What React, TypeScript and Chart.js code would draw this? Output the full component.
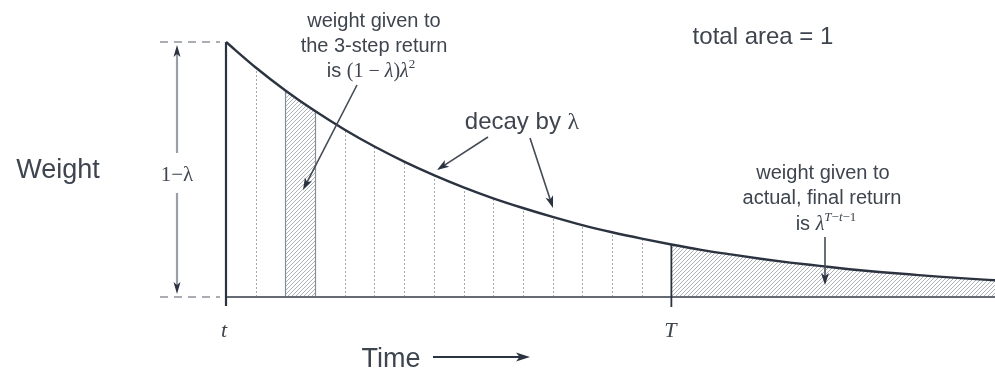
import React, { useEffect, useRef } from "react";
import { Chart, registerables } from "chart.js";

Chart.register(...registerables);

// time steps after t (t = 0, T = 15)
const stepIndex = [0, 1, 2, 3, 4, 5, 6, 7, 8, 9, 10, 11, 12, 13, 14, 15, 16, 17, 18, 19, 20, 21, 22, 23, 24, 25, 26];
// weight (relative to 1-λ)
const weights = [1.0, 0.9, 0.81, 0.729, 0.656, 0.59, 0.531, 0.478, 0.43, 0.387, 0.349, 0.314, 0.282, 0.254, 0.229, 0.206, 0.185, 0.167, 0.15, 0.135, 0.122, 0.109, 0.098, 0.089, 0.08, 0.072, 0.065];
const hatchedStep = [2, 3];
const terminalStep = 15;
const xMax = 25.9;

const TEXT = "#3e454f";
const DARK = "#2c3340";
const GRAY = "#8c9198";
const SANS = "'Liberation Sans', Arial, sans-serif";
const SERIF = "'Liberation Serif', 'DejaVu Serif', serif";

type Run = { t: string; f: string; dy?: number };

function drawRuns(ctx: CanvasRenderingContext2D, runs: Run[], cx: number, cy: number) {
  let w = 0;
  for (const r of runs) {
    ctx.font = r.f;
    w += ctx.measureText(r.t).width;
  }
  let x = cx - w / 2;
  ctx.textBaseline = "alphabetic";
  ctx.textAlign = "left";
  for (const r of runs) {
    ctx.font = r.f;
    ctx.fillText(r.t, x, cy + (r.dy || 0));
    x += ctx.measureText(r.t).width;
  }
}

function arrow(ctx: CanvasRenderingContext2D, x1: number, y1: number, x2: number, y2: number, color: string, lw = 1.5, head = 11, hw = 4) {
  const a = Math.atan2(y2 - y1, x2 - x1);
  ctx.save();
  ctx.strokeStyle = color;
  ctx.fillStyle = DARK;
  ctx.lineWidth = lw;
  ctx.beginPath();
  ctx.moveTo(x1, y1);
  ctx.lineTo(x2 - Math.cos(a) * head * 0.6, y2 - Math.sin(a) * head * 0.6);
  ctx.stroke();
  ctx.beginPath();
  ctx.moveTo(x2, y2);
  ctx.lineTo(x2 - Math.cos(a) * head - Math.sin(a) * hw, y2 - Math.sin(a) * head + Math.cos(a) * hw);
  ctx.lineTo(x2 - Math.cos(a) * head * 0.75, y2 - Math.sin(a) * head * 0.75);
  ctx.lineTo(x2 - Math.cos(a) * head + Math.sin(a) * hw, y2 - Math.sin(a) * head - Math.cos(a) * hw);
  ctx.closePath();
  ctx.fill();
  ctx.restore();
}

function makeHatch(): CanvasPattern | string {
  const c = document.createElement("canvas");
  const s = 4;
  c.width = s;
  c.height = s;
  const g = c.getContext("2d");
  if (!g) return GRAY;
  g.strokeStyle = "#989ea5";
  g.lineWidth = 0.8;
  g.beginPath();
  g.moveTo(-1, s + 1);
  g.lineTo(s + 1, -1);
  g.moveTo(-1, 1);
  g.lineTo(1, -1);
  g.moveTo(s - 1, s + 1);
  g.lineTo(s + 1, s - 1);
  g.stroke();
  const p = g.createPattern(c, "repeat");
  return p || GRAY;
}

const figurePlugin = {
  id: "figure",
  beforeDatasetsDraw(chart: any) {
    const ctx: CanvasRenderingContext2D = chart.ctx;
    const xs = chart.scales.x;
    const ys = chart.scales.y;
    const meta = chart.getDatasetMeta(0);
    const line = meta.dataset;
    const base = ys.getPixelForValue(0);
    const area = chart.chartArea;
    if (line.updateControlPoints) line.updateControlPoints(area, "x");
    const hatch = makeHatch();

    const fillUnder = (v0: number, v1: number) => {
      const x0 = xs.getPixelForValue(v0);
      const x1 = Math.min(xs.getPixelForValue(v1), chart.width);
      ctx.save();
      ctx.beginPath();
      ctx.rect(x0, 0, x1 - x0, base);
      ctx.clip();
      ctx.beginPath();
      line.path(ctx);
      const pts = line.points;
      ctx.lineTo(pts[pts.length - 1].x, base);
      ctx.lineTo(pts[0].x, base);
      ctx.closePath();
      ctx.fillStyle = hatch;
      ctx.fill();
      ctx.restore();
    };
    fillUnder(hatchedStep[0], hatchedStep[1]);
    fillUnder(terminalStep, stepIndex[stepIndex.length - 1]);

    // vertical step lines
    ctx.save();
    for (let i = 1; i < terminalStep; i++) {
      const x = xs.getPixelForValue(stepIndex[i]);
      const yt = ys.getPixelForValue(weights[i]);
      ctx.beginPath();
      if (hatchedStep.includes(i)) {
        ctx.strokeStyle = "#868c94";
        ctx.lineWidth = 1.2;
        ctx.setLineDash([]);
      } else {
        ctx.strokeStyle = "#a3a8ae";
        ctx.lineWidth = 1;
        ctx.setLineDash([2, 2]);
      }
      ctx.moveTo(Math.round(x) + 0.5, base);
      ctx.lineTo(Math.round(x) + 0.5, yt);
      ctx.stroke();
    }
    ctx.restore();

    // baseline
    ctx.save();
    ctx.strokeStyle = "#646b74";
    ctx.lineWidth = 2;
    ctx.beginPath();
    ctx.moveTo(xs.getPixelForValue(0), base);
    ctx.lineTo(chart.width, base);
    ctx.stroke();
    // t axis
    const xt = xs.getPixelForValue(0);
    ctx.strokeStyle = DARK;
    ctx.lineWidth = 2.2;
    ctx.beginPath();
    ctx.moveTo(xt, ys.getPixelForValue(weights[0]));
    ctx.lineTo(xt, base + 9);
    ctx.stroke();
    // T line
    const xT = xs.getPixelForValue(terminalStep);
    ctx.lineWidth = 1.8;
    ctx.beginPath();
    ctx.moveTo(xT, ys.getPixelForValue(weights[terminalStep]));
    ctx.lineTo(xT, base + 10);
    ctx.stroke();
    ctx.restore();
  },
  afterDraw(chart: any) {
    const ctx: CanvasRenderingContext2D = chart.ctx;
    const xs = chart.scales.x;
    const ys = chart.scales.y;
    const top = ys.getPixelForValue(1);
    const base = ys.getPixelForValue(0);
    const xt = xs.getPixelForValue(0);
    const xT = xs.getPixelForValue(terminalStep);

    ctx.save();
    // dashed guides
    ctx.strokeStyle = "#8f949a";
    ctx.lineWidth = 1.5;
    ctx.setLineDash([8, 6]);
    for (const y of [top, base]) {
      ctx.beginPath();
      ctx.moveTo(160, y);
      ctx.lineTo(220, y);
      ctx.stroke();
    }
    ctx.setLineDash([]);

    // 1-λ double arrow
    arrow(ctx, 177, 153, 177, top + 3, "#9a9fa5", 2.2, 12, 3.5);
    arrow(ctx, 177, 193, 177, base - 3, "#9a9fa5", 2.2, 12, 3.5);

    ctx.fillStyle = TEXT;
    drawRuns(ctx, [{ t: "1−λ", f: `21px ${SERIF}` }], 177, 181);

    // Weight
    drawRuns(ctx, [{ t: "Weight", f: `27px ${SANS}` }], 58, 178);

    // t, T
    drawRuns(ctx, [{ t: "t", f: `italic 22px ${SERIF}` }], xt - 2, 337);
    drawRuns(ctx, [{ t: "T", f: `italic 22px ${SERIF}` }], xT - 1, 337);

    // Time ->
    drawRuns(ctx, [{ t: "Time", f: `27px ${SANS}` }], 391, 367);
    arrow(ctx, 433, 357, 530, 357, DARK, 1.8, 14, 4.5);

    // total area
    drawRuns(ctx, [{ t: "total area = 1", f: `24px ${SANS}` }], 763, 44);

    // left annotation
    const an = `20px ${SANS}`;
    drawRuns(ctx, [{ t: "weight given to", f: an }], 374, 27);
    drawRuns(ctx, [{ t: "the 3-step return", f: an }], 374, 52);
    drawRuns(ctx, [
      { t: "is ", f: an },
      { t: "(1 − ", f: `20px ${SERIF}` },
      { t: "λ", f: `italic 20px ${SERIF}` },
      { t: ")", f: `20px ${SERIF}` },
      { t: "λ", f: `italic 20px ${SERIF}` },
      { t: "2", f: `13px ${SERIF}`, dy: -9 },
    ], 371, 77);
    arrow(ctx, 357, 85, 303, 190, "#444b55", 1.6, 12, 4);

    // decay by λ
    drawRuns(ctx, [
      { t: "decay by ", f: `24px ${SANS}` },
      { t: "λ", f: `24px ${SERIF}` },
    ], 522, 129);
    arrow(ctx, 488, 137, 437, 170, "#444b55", 1.6, 12, 4);
    arrow(ctx, 530, 138, 553, 208, "#444b55", 1.6, 12, 4);

    // right annotation
    drawRuns(ctx, [{ t: "weight given to", f: an }], 823, 179);
    drawRuns(ctx, [{ t: "actual, final return", f: an }], 822, 204);
    drawRuns(ctx, [
      { t: "is ", f: an },
      { t: "λ", f: `italic 20px ${SERIF}` },
      { t: "T", f: `italic 13px ${SERIF}`, dy: -9 },
      { t: "−", f: `13px ${SERIF}`, dy: -9 },
      { t: "t", f: `italic 13px ${SERIF}`, dy: -9 },
      { t: "−1", f: `13px ${SERIF}`, dy: -9 },
    ], 826, 230);
    arrow(ctx, 825, 237, 825, 285, "#444b55", 1.6, 12, 4);
    ctx.restore();
  },
};

export default function App() {
  const ref = useRef<HTMLCanvasElement | null>(null);
  useEffect(() => {
    if (!ref.current) return;
    const chart = new Chart(ref.current, {
      type: "line",
      data: {
        datasets: [
          {
            data: stepIndex.map((x, i) => ({ x, y: weights[i] })),
            borderColor: DARK,
            borderWidth: 2.4,
            pointRadius: 0,
            cubicInterpolationMode: "monotone",
            fill: false,
            clip: false,
          } as any,
        ],
      },
      options: {
        animation: false,
        responsive: true,
        maintainAspectRatio: false,
        layout: { padding: { left: 226, right: 0, top: 42, bottom: 76 } },
        scales: {
          x: { type: "linear", min: 0, max: xMax, display: false },
          y: { type: "linear", min: 0, max: 1, display: false },
        },
        plugins: { legend: { display: false }, tooltip: { enabled: false } },
        events: [],
      },
      plugins: [figurePlugin],
    });
    return () => chart.destroy();
  }, []);
  return (
    <div style={{ position: "fixed", left: 0, top: 0, width: 995, height: 373, background: "#fff" }}>
      <canvas ref={ref} />
    </div>
  );
}
